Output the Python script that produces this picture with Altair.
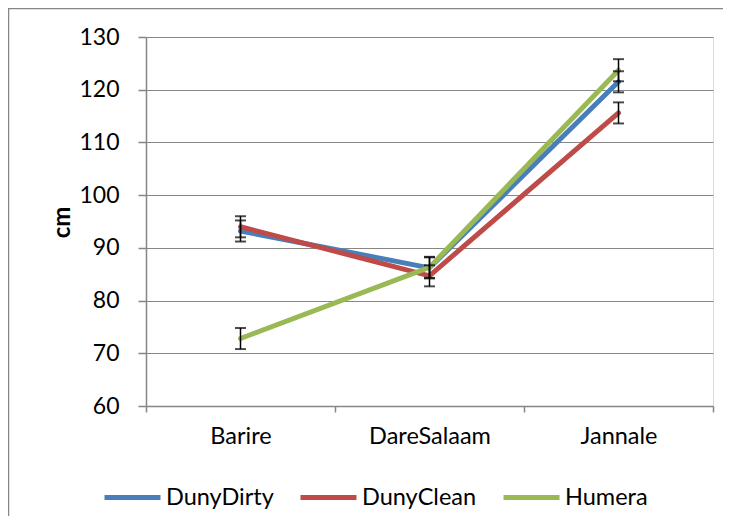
import altair as alt
import pandas as pd

sites = ["Barire", "DareSalaam", "Jannale"]
varieties = ["DunyDirty", "DunyClean", "Humera"]
duny_dirty = [93.2, 86.2, 121.5]
duny_clean = [94.0, 84.7, 115.6]
humera = [72.8, 86.3, 123.7]
err_dirty = [2.0, 2.0, 2.0]
err_clean = [2.0, 2.0, 2.0]
err_humera = [2.0, 2.0, 2.1]
colors = ["#4A7EBB", "#BE4B48", "#98B954"]
y_ticks = [60, 70, 80, 90, 100, 110, 120, 130]

rows = []
for v, vals, errs in zip(varieties, [duny_dirty, duny_clean, humera],
                         [err_dirty, err_clean, err_humera]):
    for s, val, e in zip(sites, vals, errs):
        rows.append({"site": s, "variety": v, "value": val, "err": e})
df = pd.DataFrame(rows)

FONT = "Lato"
GRAY = "#868686"

x_enc = alt.X(
    "site:N", sort=sites, bandPosition=0.5,
    scale=alt.Scale(type="band", paddingInner=0, paddingOuter=0),
    axis=alt.Axis(title=None, tickBand="extent", grid=False, labelAngle=0,
                  domainColor=GRAY, tickColor=GRAY, tickSize=6, domainWidth=1.5,
                  tickWidth=1.5, labelFont=FONT, labelFontSize=23.5,
                  labelColor="#000000", labelPadding=12),
)
y_scale = alt.Scale(domain=[60, 130], nice=False, zero=False)

base = alt.Chart(df)

lines = base.mark_line(strokeWidth=5, strokeCap="round").encode(
    x=x_enc,
    y=alt.Y("value:Q", scale=y_scale,
            axis=alt.Axis(values=y_ticks, title="cm", grid=True, gridColor=GRAY,
                          gridWidth=1.2, domainColor=GRAY, domainWidth=1.5,
                          tickColor=GRAY, tickWidth=1.5, tickSize=8,
                          labelFont=FONT, labelFontSize=23, labelColor="#000000",
                          labelPadding=19, titleFont=FONT, titleFontSize=24,
                          titleFontWeight="bold", titleColor="#000000",
                          titleX=-84, titleY=185, titleAlign="center",
                          titleBaseline="middle")),
    color=alt.Color("variety:N", sort=varieties,
                    scale=alt.Scale(domain=varieties, range=colors),
                    legend=alt.Legend(title=None, orient="none", direction="horizontal",
                                      legendX=-44, legendY=430, symbolType="stroke",
                                      symbolSize=3136, symbolStrokeWidth=5,
                                      labelFont=FONT, labelFontSize=23.5,
                                      labelColor="#000000", labelOffset=3,
                                      columnPadding=16)),
    order=alt.Order("site:N"),
    detail="variety:N",
)

err_rules = base.mark_rule(color="#000000", strokeWidth=1.5).encode(
    x=x_enc,
    y=alt.Y("lo:Q", scale=y_scale),
    y2="hi:Q",
).transform_calculate(lo="datum.value - datum.err", hi="datum.value + datum.err")

caps_lo = base.mark_tick(color="#000000", size=11, thickness=2, orient="horizontal").encode(
    x=x_enc, y=alt.Y("lo:Q", scale=y_scale),
).transform_calculate(lo="datum.value - datum.err")

caps_hi = base.mark_tick(color="#000000", size=11, thickness=2, orient="horizontal").encode(
    x=x_enc, y=alt.Y("hi:Q", scale=y_scale),
).transform_calculate(hi="datum.value + datum.err")

frame_df = pd.DataFrame({"k": [0]})
frame_left = alt.Chart(frame_df).mark_rule(color=GRAY, strokeWidth=1.5).encode(
    x=alt.value(-137.5), y=alt.value(-29), y2=alt.value(560))
frame_top = alt.Chart(frame_df).mark_rule(color=GRAY, strokeWidth=1.5).encode(
    x=alt.value(-138), x2=alt.value(620), y=alt.value(-28.5))

chart = alt.layer(lines, err_rules, caps_lo, caps_hi, frame_left, frame_top).properties(
    width=567, height=369,
    autosize=alt.AutoSizeParams(type="none"),
    padding={"left": 138, "top": 29, "right": 10, "bottom": 110},
).configure_view(stroke=None).configure(background="#ffffff")

chart.save("out.html", embed_options={"renderer": "svg", "actions": False})
